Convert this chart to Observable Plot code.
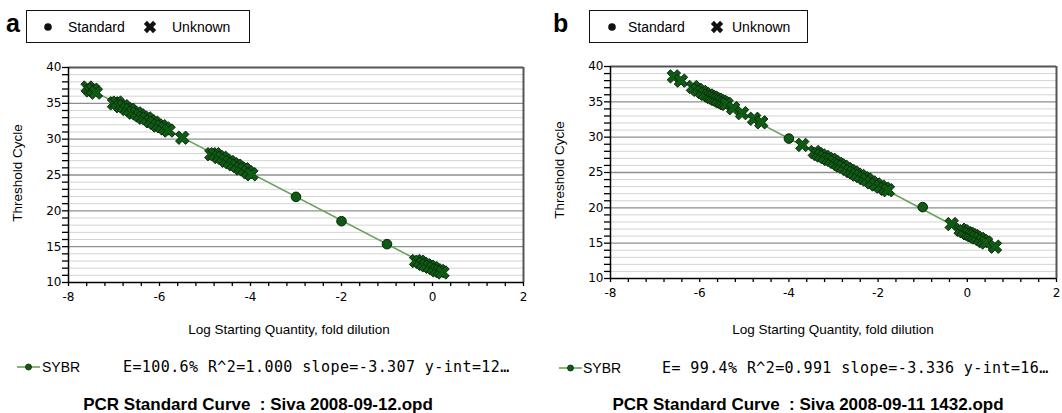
<!DOCTYPE html>
<html><head><meta charset="utf-8">
<script src="https://cdn.jsdelivr.net/npm/d3@7"></script>
<script src="https://cdn.jsdelivr.net/npm/@observablehq/plot@0.6"></script>
<style>
body{margin:0;background:#fff;}
#root{position:relative;width:1062px;height:413px;overflow:hidden;font-family:"Liberation Sans",Arial,sans-serif;color:#000;}
.abs{position:absolute;white-space:pre;line-height:1;}
.box{position:absolute;border:1.5px solid #111;box-sizing:border-box;}
.panelLetter{font-weight:bold;font-size:25px;}
.leg{font-size:14px;}
.ytitle{font-size:13.5px;transform:translate(-50%,-50%) rotate(-90deg);}
.xtitle{font-size:13.5px;transform:translateX(-50%);}
.mono{font-family:"DejaVu Sans Mono",monospace;font-size:15px;letter-spacing:0.4px;}
.sybr{font-size:14px;}
.title{font-weight:bold;font-size:17px;transform:translateX(-50%);}
</style></head><body><div id="root"></div>
<script>
// ---------- data ----------
const aStdX = [-3, -2, -1];
const aStdY = [21.95, 18.55, 15.35];
const aUnkX = [-7.58, -7.52, -7.46, -7.4, -7.0, -6.93, -6.86, -6.79, -6.72, -6.65, -6.58, -6.5, -6.43, -6.36, -6.28, -6.2, -6.12, -6.04, -5.96, -5.88, -5.8, -5.5, -4.86, -4.78, -4.7, -4.62, -4.54, -4.46, -4.38, -4.3, -4.22, -4.14, -4.06, -3.98, -0.36, -0.28, -0.21, -0.14, -0.06, 0.02, 0.09, 0.16, 0.22];
const aUnkY = [37.2, 36.8, 36.9, 36.5, 35.0, 35.1, 34.6, 34.6, 34.2, 34.1, 33.7, 33.6, 33.3, 33.0, 32.9, 32.5, 32.3, 31.9, 31.8, 31.5, 31.2, 30.2, 27.9, 27.9, 27.5, 27.4, 27.0, 26.8, 26.5, 26.3, 25.9, 25.8, 25.4, 25.1, 13.0, 12.9, 12.6, 12.4, 12.2, 12.0, 11.7, 11.6, 11.4];
const aSlope = -3.307;
const aIntercept = 12.05;

const bStdX = [-4, -1];
const bStdY = [29.8, 20.1];
const bUnkX = [-6.58, -6.42, -6.15, -6.05, -5.95, -5.88, -5.8, -5.75, -5.7, -5.65, -5.6, -5.55, -5.5, -5.45, -5.4, -5.25, -5.05, -4.78, -4.62, -3.7, -3.42, -3.35, -3.28, -3.2, -3.12, -3.05, -2.98, -2.9, -2.85, -2.78, -2.7, -2.62, -2.55, -2.48, -2.4, -2.32, -2.25, -2.15, -2.05, -1.95, -1.85, -1.78, -0.35, -0.15, -0.08, 0.0, 0.05, 0.1, 0.15, 0.2, 0.28, 0.35, 0.42, 0.62];
const bUnkY = [38.6, 38.0, 37.1, 36.7, 36.4, 36.1, 35.9, 35.7, 35.6, 35.4, 35.3, 35.1, 35.0, 34.8, 34.7, 34.1, 33.4, 32.6, 32.1, 28.9, 27.9, 27.6, 27.4, 27.2, 26.9, 26.8, 26.5, 26.2, 26.0, 25.8, 25.5, 25.2, 25.0, 24.7, 24.5, 24.2, 24.0, 23.6, 23.3, 23.0, 22.7, 22.5, 17.7, 16.9, 16.7, 16.4, 16.3, 16.1, 16.0, 15.8, 15.6, 15.3, 15.1, 14.5];
const bSlope = -3.336;
const bIntercept = 16.45;

const xDomain = [-8, 2];
const yDomain = [10, 40];
const xLabelTicks = [-8, -6, -4, -2, 0, 2];
const yLabelTicks = [10, 15, 20, 25, 30, 35, 40];

const legendLabels = ["Standard", "Unknown"];
const seriesName = "SYBR";
const aStats = "E=100.6% R^2=1.000 slope=-3.307 y-int=12\u2026";
const bStats = "E= 99.4% R^2=0.991 slope=-3.336 y-int=16\u2026";
const aTitle = "PCR Standard Curve  : Siva 2008-09-12.opd";
const bTitle = "PCR Standard Curve  : Siva 2008-09-11 1432.opd";
const yTitle = "Threshold Cycle";
const xTitle = "Log Starting Quantity, fold dilution";

// ---------- styles ----------
const markerFill = "#0e5c14";
const markerStroke = "#0b250b";
const lineColor = "#66a35a";

const root = document.getElementById("root");

function panel(stdX, stdY, unkX, unkY, slope, intercept, opts) {
  const std = stdX.map((x, i) => ({x, y: stdY[i]}));
  const unk = unkX.map((x, i) => ({x, y: unkY[i]}));
  const allX = stdX.concat(unkX);
  const x0 = d3.min(allX), x1 = d3.max(allX);
  const fit = [x0, x1].map(x => ({x, y: intercept + slope * x}));
  const minorY = d3.range(yDomain[0] + 1, yDomain[1], 1).filter(v => v % 5 !== 0);
  const majorY = yLabelTicks.filter(v => v > yDomain[0] && v < yDomain[1]);
  const xMinorTicks = d3.range(0, 26).map(i => xDomain[0] + i * 0.4);
  const yAllTicks = d3.range(yDomain[0], yDomain[1] + 1, 1);
  const svg = Plot.plot({
    width: opts.width, height: opts.height,
    marginLeft: opts.ml, marginRight: opts.mr, marginTop: opts.mt, marginBottom: opts.mb,
    style: {fontFamily: "DejaVu Sans, sans-serif", fontSize: "12px", color: "#000", background: "transparent", overflow: "visible"},
    x: {domain: xDomain, label: null},
    y: {domain: yDomain, label: null},
    marks: [
      Plot.ruleY(minorY, {stroke: "#d4d4d4", strokeWidth: 1}),
      Plot.ruleY(majorY, {stroke: "#8f8f8f", strokeWidth: 1.4}),
      Plot.ruleY([yDomain[1]], {stroke: "#555", strokeWidth: 2}),
      Plot.ruleX([xDomain[1]], {stroke: "#555", strokeWidth: 2}),
      Plot.line(fit, {x: "x", y: "y", stroke: lineColor, strokeWidth: 1.6}),
      Plot.dot(std, {x: "x", y: "y", r: 4.8, fill: markerFill, stroke: markerStroke, strokeWidth: 1}),
      Plot.dot(unk, {x: "x", y: "y", symbol: "cross", r: 6, rotate: 45, fill: markerFill, stroke: markerStroke, strokeWidth: 0.9}),
      Plot.ruleX([xDomain[0]], {stroke: "#000", strokeWidth: 1.5}),
      Plot.ruleY([yDomain[0]], {stroke: "#000", strokeWidth: 1.5}),
      Plot.axisX({ticks: xMinorTicks, tickSize: 4, tickFormat: () => "", label: null, stroke: "#000", strokeWidth: 1.3}),
      Plot.axisX({ticks: xLabelTicks, tickSize: 0, tickPadding: 10, tickFormat: d => String(d), label: null}),
      Plot.axisY({ticks: yAllTicks, tickSize: 6, tickPadding: 1, tickFormat: d => (d % 5 === 0 ? String(d) : ""), label: null, stroke: "#000", strokeWidth: 1.3})
    ]
  });
  svg.style.position = "absolute";
  svg.style.left = opts.left + "px";
  svg.style.top = opts.top + "px";
  root.appendChild(svg);
}

function addText(cls, text, left, top) {
  const d = document.createElement("div");
  d.className = "abs " + cls;
  d.textContent = text;
  d.style.left = left + "px";
  d.style.top = top + "px";
  root.appendChild(d);
  return d;
}

function crossSvg(cx, cy) {
  const s = document.createElementNS("http://www.w3.org/2000/svg", "svg");
  s.setAttribute("width", 14); s.setAttribute("height", 14);
  s.style.position = "absolute"; s.style.left = (cx - 7) + "px"; s.style.top = (cy - 7) + "px";
  s.innerHTML = '<g transform="translate(7,7) rotate(45)"><path d="M-6.5,-2.2H-2.2V-6.5H2.2V-2.2H6.5V2.2H2.2V6.5H-2.2V2.2H-6.5Z" fill="#111"/></g>';
  root.appendChild(s);
}
function dotSvg(cx, cy) {
  const s = document.createElementNS("http://www.w3.org/2000/svg", "svg");
  s.setAttribute("width", 10); s.setAttribute("height", 10);
  s.style.position = "absolute"; s.style.left = (cx - 5) + "px"; s.style.top = (cy - 5) + "px";
  s.innerHTML = '<circle cx="5" cy="5" r="3.8" fill="#111"/>';
  root.appendChild(s);
}
function seriesSvg(x, cy) {
  const s = document.createElementNS("http://www.w3.org/2000/svg", "svg");
  s.setAttribute("width", 24); s.setAttribute("height", 10);
  s.style.position = "absolute"; s.style.left = x + "px"; s.style.top = (cy - 5) + "px";
  s.innerHTML = '<line x1="0" y1="5" x2="23" y2="5" stroke="' + lineColor + '" stroke-width="1.6"/><circle cx="11.5" cy="5" r="3" fill="' + markerFill + '" stroke="' + markerStroke + '" stroke-width="0.8"/>';
  root.appendChild(s);
}

function legendBox(left, width, dotX, stdX, crossX, unkX) {
  const b = document.createElement("div");
  b.className = "box";
  b.style.left = left + "px"; b.style.top = "10px";
  b.style.width = width + "px"; b.style.height = "33px";
  root.appendChild(b);
  dotSvg(dotX, 27);
  addText("leg", legendLabels[0], stdX, 20);
  crossSvg(crossX, 26.5);
  addText("leg", legendLabels[1], unkX, 20);
}

// panel a
panel(aStdX, aStdY, aUnkX, aUnkY, aSlope, aIntercept, {left: 0, top: 55, width: 540, height: 255, ml: 68, mr: 17, mt: 12, mb: 28});
// panel b
panel(bStdX, bStdY, bUnkX, bUnkY, bSlope, bIntercept, {left: 540, top: 55, width: 522, height: 255, ml: 70, mr: 6, mt: 11, mb: 32});

addText("panelLetter", "a", 6, 11);
addText("panelLetter", "b", 553, 11);
legendBox(26, 224, 48, 68, 150, 172);
legendBox(589, 219, 612, 628, 717, 732);

addText("ytitle", yTitle, 18, 173);
addText("ytitle", yTitle, 560, 170);
addText("xtitle", xTitle, 289, 323);
addText("xtitle", xTitle, 833, 323);

seriesSvg(17, 367);
addText("sybr", seriesName, 42, 360);
addText("mono", aStats, 123, 360);
seriesSvg(559, 368);
addText("sybr", seriesName, 583, 361);
addText("mono", bStats, 662, 361);

addText("title", aTitle, 258, 396);
addText("title", bTitle, 808, 396);
</script></body></html>
